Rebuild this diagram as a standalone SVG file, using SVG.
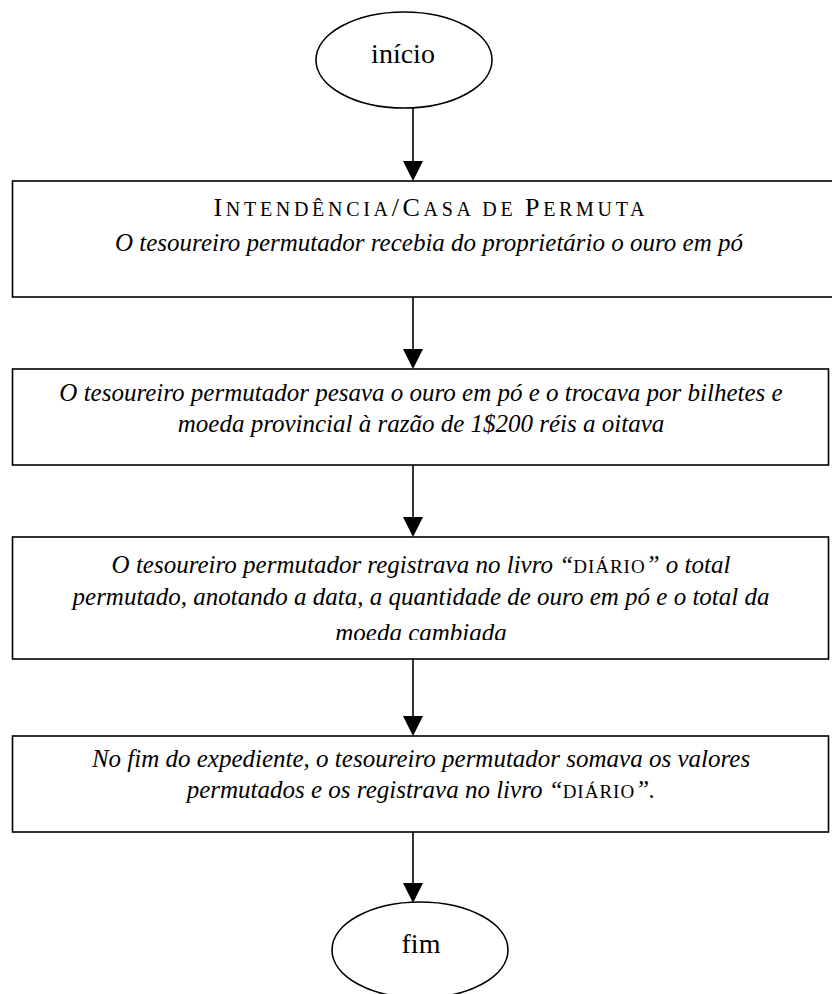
<svg xmlns="http://www.w3.org/2000/svg" width="832" height="994" viewBox="0 0 832 994">
<style>
.shape{fill:#fff;stroke:#000;stroke-width:1.6}
.edge{stroke:#000;stroke-width:1.6;fill:none}
.head{fill:#000}
.it{font-family:"Liberation Serif","Times New Roman",serif;font-style:italic;font-size:25px;fill:#000;text-anchor:middle}
.rm{font-family:"Liberation Serif","Times New Roman",serif;font-size:28px;fill:#000;text-anchor:middle}
.sc{font-family:"Liberation Serif","Times New Roman",serif;font-size:26px;fill:#000;text-anchor:middle}
.sm{font-size:20px}
.up{font-style:normal;font-size:19px;letter-spacing:1px}
</style>
<defs>
<clipPath id="clip3"><rect x="12" y="536" width="818" height="104"/></clipPath>
</defs>
<rect width="832" height="994" fill="#fff"/>
<g id="connectors">
<line class="edge" x1="413" y1="108" x2="413" y2="162"/>
<polygon class="head" points="403,161 423,161 413,181"/>
<line class="edge" x1="413" y1="297" x2="413" y2="350"/>
<polygon class="head" points="403,349 423,349 413,369"/>
<line class="edge" x1="413" y1="465" x2="413" y2="518"/>
<polygon class="head" points="403,517 423,517 413,537"/>
<line class="edge" x1="413" y1="659" x2="413" y2="717"/>
<polygon class="head" points="403,716 423,716 413,736"/>
<line class="edge" x1="413" y1="832" x2="413" y2="884"/>
<polygon class="head" points="403,883 423,883 413,903"/>
</g>
<g id="inicio">
<ellipse class="shape" cx="404" cy="60" rx="88" ry="48"/>
<text class="rm" x="403" y="63">início</text>
</g>
<g id="box1">
<rect class="shape" x="12.5" y="181" width="834" height="116"/>
<text class="sc" x="429" y="216" textLength="431" lengthAdjust="spacing">I<tspan class="sm">NTENDÊNCIA</tspan>/C<tspan class="sm">ASA DE </tspan>P<tspan class="sm">ERMUTA</tspan></text>
<text class="it" x="429" y="251">O tesoureiro permutador recebia do proprietário o ouro em pó</text>
</g>
<g id="box2">
<rect class="shape" x="12.5" y="369" width="816" height="96"/>
<text class="it" x="421" y="401">O tesoureiro permutador pesava o ouro em pó e o trocava por bilhetes e</text>
<text class="it" x="421" y="432">moeda provincial à razão de 1$200 réis a oitava</text>
</g>
<g id="box3">
<rect class="shape" x="12.5" y="537" width="816" height="122"/>
<g clip-path="url(#clip3)">
<text class="it" x="421" y="573">O tesoureiro permutador registrava no livro “<tspan class="up">DIÁRIO</tspan>” o total</text>
<text class="it" x="421" y="605">permutado, anotando a data, a quantidade de ouro em pó e o total da</text>
<text class="it" x="421" y="641">moeda cambiada</text>
</g>
</g>
<g id="box4">
<rect class="shape" x="12.5" y="736" width="816" height="96"/>
<text class="it" x="421" y="767">No fim do expediente, o tesoureiro permutador somava os valores</text>
<text class="it" x="421" y="798">permutados e os registrava no livro “<tspan class="up">DIÁRIO</tspan>”.</text>
</g>
<g id="fim">
<ellipse class="shape" cx="420" cy="950" rx="88" ry="48"/>
<text class="rm" x="421" y="953">fim</text>
</g>
</svg>
